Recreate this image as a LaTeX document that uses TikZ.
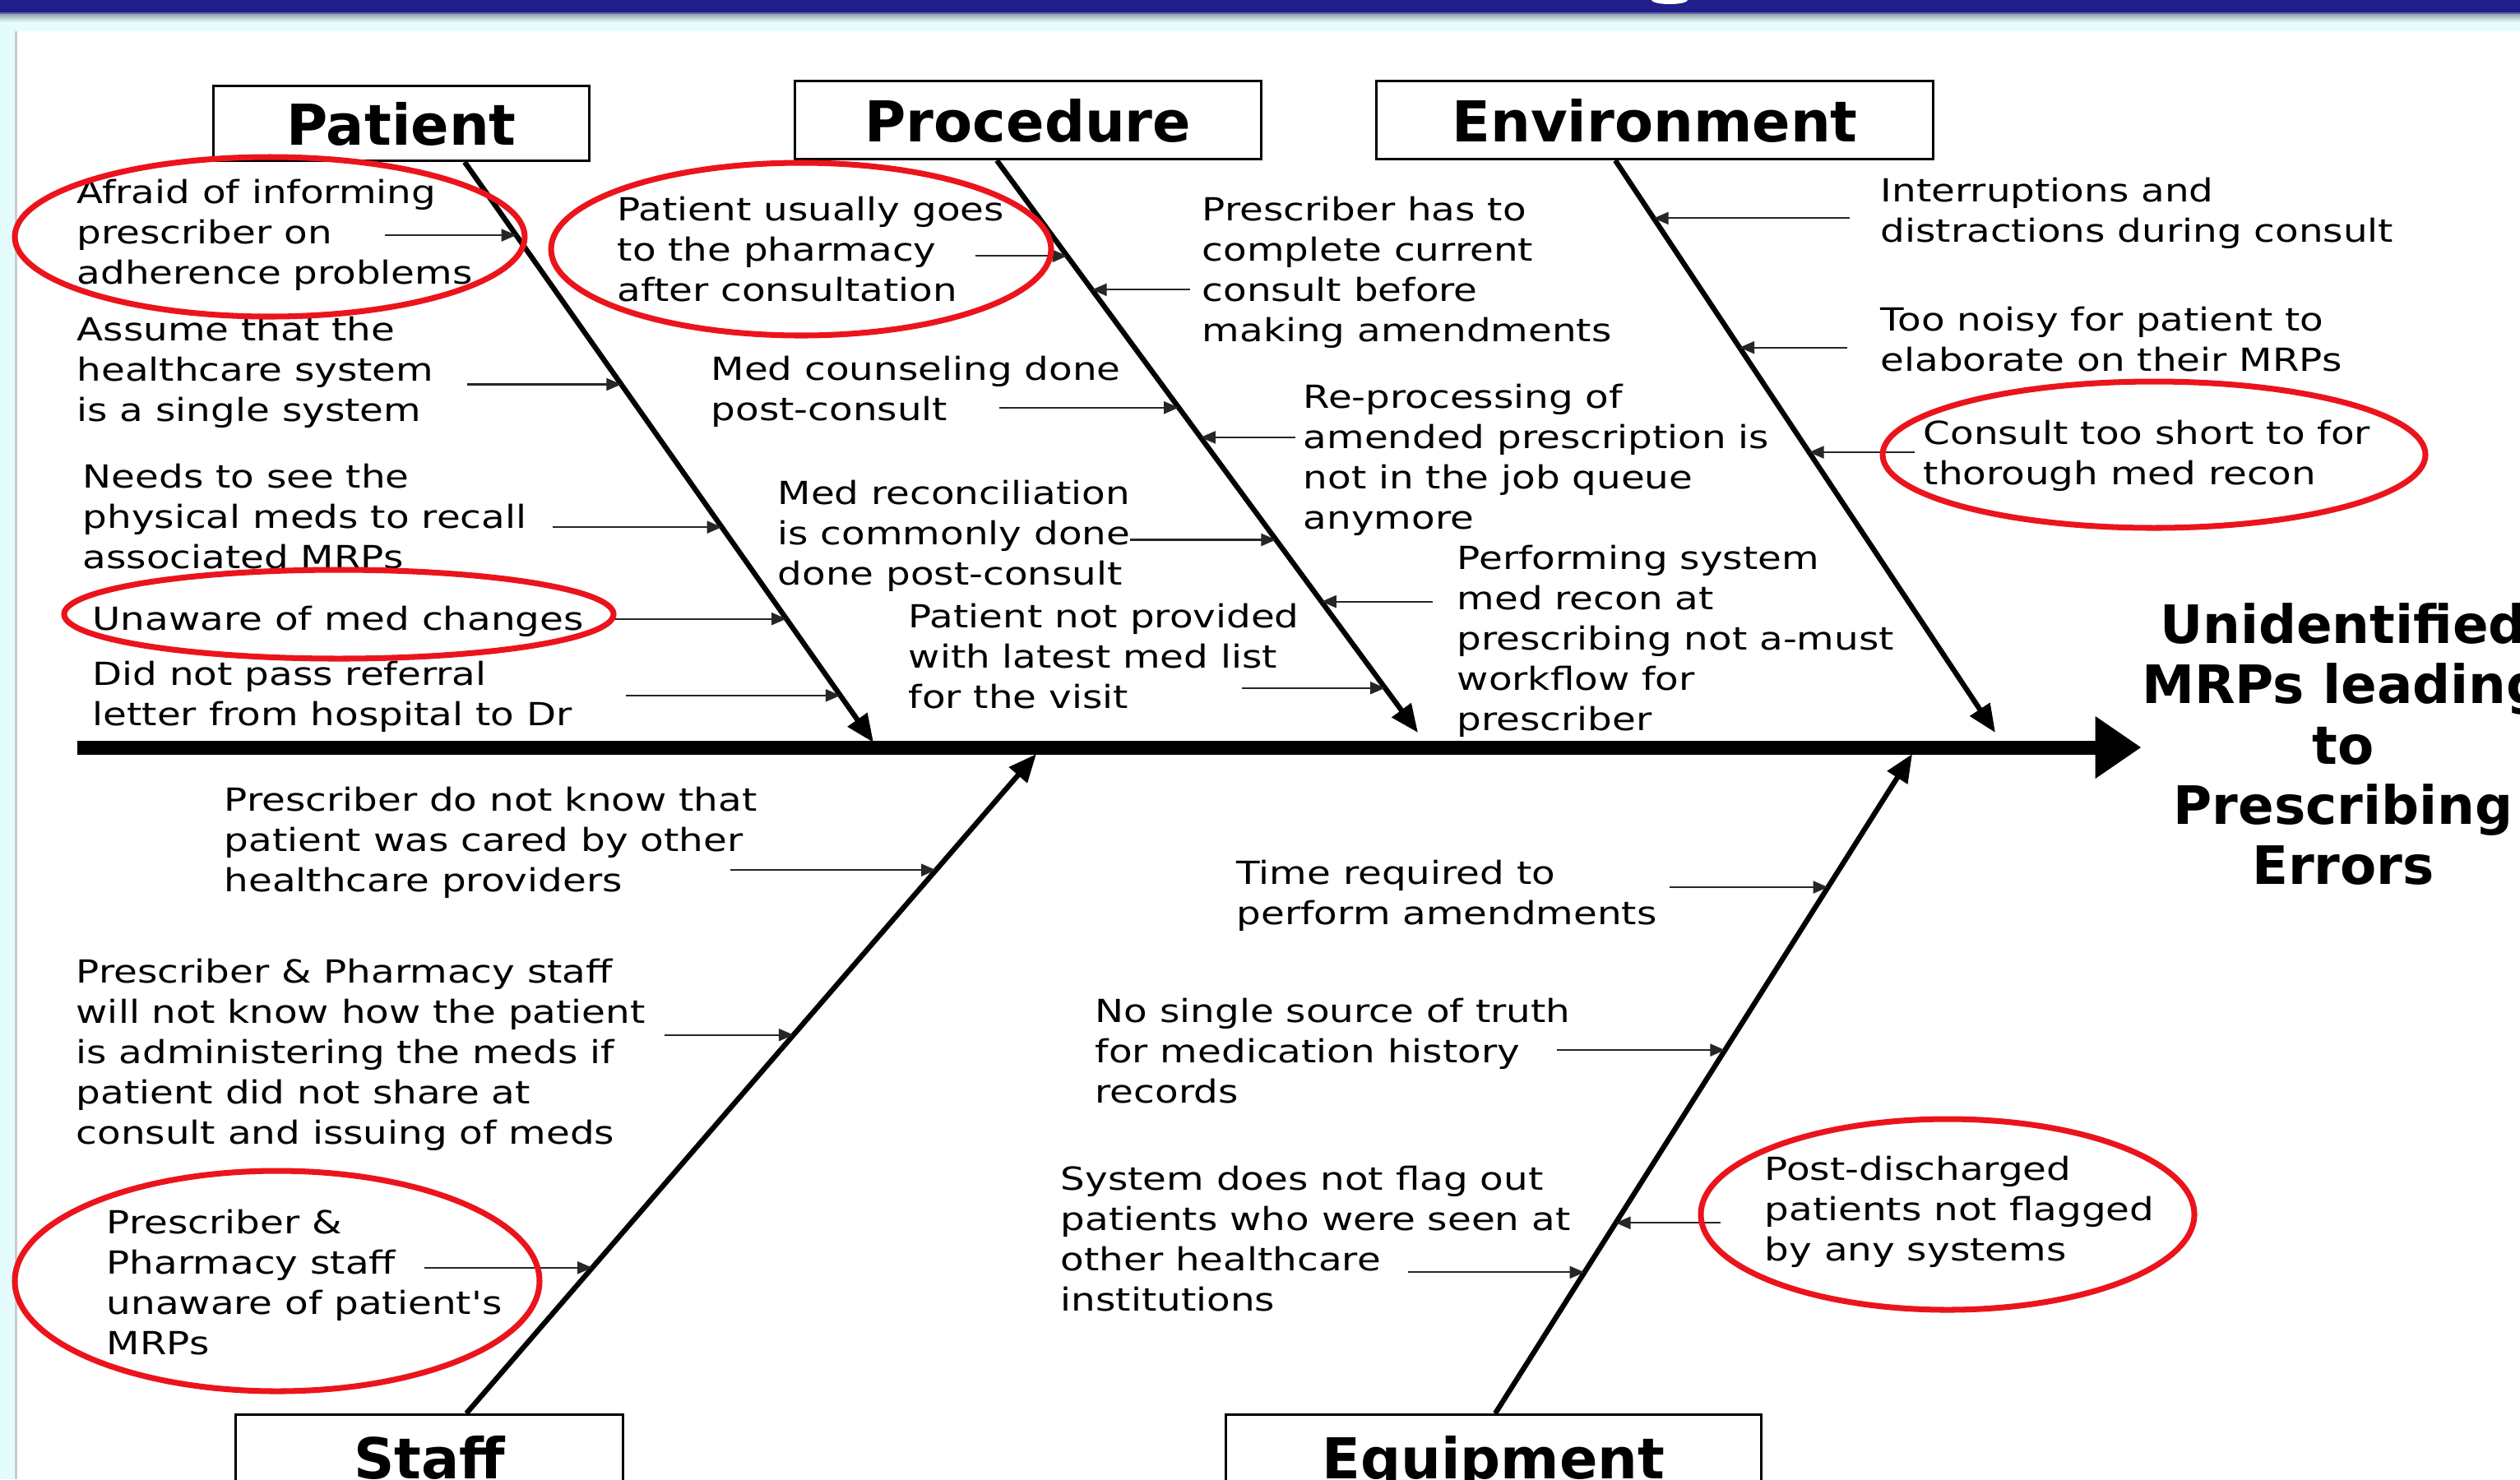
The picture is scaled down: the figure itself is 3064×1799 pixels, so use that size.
\documentclass[tikz,border=0pt]{standalone}
\usepackage{fontspec}
\setmainfont{DejaVu Sans}
\newfontfamily\causefont[FakeStretch=1.21]{DejaVu Sans}
\usetikzlibrary{arrows.meta,calc}

\definecolor{bandblue}{RGB}{32,30,138}
\definecolor{bandedge}{RGB}{96,94,178}
\definecolor{bandgrey}{RGB}{150,168,164}
\definecolor{paleaqua}{RGB}{228,252,252}
\definecolor{ringred}{RGB}{235,20,28}

\tikzset{
  headbox/.style={draw, line width=0.9pt, inner sep=0pt,
    font=\bfseries\fontsize{19.5pt}{23pt}\selectfont,
    text height=0.52cm, text depth=0pt},
  cause/.style={anchor=north west, align=left, inner sep=0pt, yshift=-0.05cm,
    font=\causefont\fontsize{11pt}{0.49cm}\selectfont,
    execute at begin node=\strut},
  effect/.style={anchor=north, align=center, inner sep=0pt, yshift=-0.04cm,
    font=\bfseries\fontsize{18.3pt}{0.733cm}\selectfont,
    execute at begin node=\strut},
  bone/.style={line width=1.8pt, -{Triangle[length=0.34cm,width=0.28cm]}},
  spine/.style={line width=0.17cm, -{Triangle[length=0.56cm,width=0.72cm]}},
  feed/.style={black!85, line width=0.6pt, -{Triangle[length=0.18cm,width=0.15cm]}},
  ring/.style={ringred, line width=2pt},
}

\begin{document}
\begin{tikzpicture}[x=0.01cm, y=-0.01cm]
	\useasboundingbox (0,0) rectangle (3064,1799);
	\clip (0,0) rectangle (3064,1799);

	% slide background
	\fill[white]		(0,0) rectangle (3064,1799);
	\fill[paleaqua]		(0,25) rectangle (3064,38);
	\shade[top color=bandgrey, bottom color=paleaqua]	(0,17) rectangle (3064,27);
	\fill[bandedge]		(0,14) rectangle (3064,17);
	\fill[bandblue]		(0,0) rectangle (3064,15);
	\fill[white]		(2030,0) ellipse [x radius=22, y radius=5];
	\fill[paleaqua]		(0,38) rectangle (18,1799);
	\fill[black!20]		(18,38) rectangle (21,1799);

	% category boxes
	\node[headbox, minimum width=4.57cm, minimum height=0.91cm]	(patient) at (488,150) {Patient};
	\node[headbox, minimum width=5.66cm, minimum height=0.95cm]	(procedure) at (1250,146) {Procedure};
	\node[headbox, minimum width=6.76cm, minimum height=0.95cm]	(environment) at (2012,146) {Environment};
	\node[headbox, anchor=north, minimum width=4.70cm, minimum height=1.04cm]	(staff) at (522,1719) {Staff};
	\node[headbox, anchor=north, minimum width=6.51cm, minimum height=1.04cm]	(equipment) at (1816,1719) {Equipment};

	\node[effect]	(effect) at (2849,729) {Unidentified\\MRPs leading\\to\\Prescribing\\Errors};

	% spine and bones
	\coordinate (tail) at (94,909);
	\draw[spine]	(tail) -- (tail -| effect.west);

	\coordinate (patTop) at ($(patient.south)+(77,0)$);
	\coordinate (proTop) at ($(procedure.south)+(-38,0)$);
	\coordinate (envTop) at ($(environment.south)+(-48,0)$);
	\coordinate (stfBot) at ($(staff.north)+(45,0)$);
	\coordinate (eqpBot) at ($(equipment.north)+(2,0)$);
	\coordinate (patTip) at (1062,903);
	\coordinate (proTip) at (1724,891);
	\coordinate (envTip) at (2426,891);
	\coordinate (stfTip) at (1260,917);
	\coordinate (eqpTip) at (2325,917);

	\draw[bone]	(patTop) -- (patTip);
	\draw[bone]	(proTop) -- (proTip);
	\draw[bone]	(envTop) -- (envTip);
	\draw[bone]	(stfBot) -- (stfTip);
	\draw[bone]	(eqpBot) -- (eqpTip);

	% patient causes
	\node[cause]	(pat1) at (93,212)	{Afraid of informing\\prescriber on\\adherence problems};
	\node[cause]	(pat2) at (93,379)	{Assume that the\\healthcare system\\is a single system};
	\node[cause]	(pat3) at (100,558)	{Needs to see the\\physical meds to recall\\associated MRPs};
	\node[cause]	(pat4) at (112,726)	{Unaware of med changes};
	\node[cause]	(pat5) at (112,798)	{Did not pass referral\\letter from hospital to Dr};

	% procedure causes
	\node[cause]	(pro1) at (750,233)		{Patient usually goes\\to the pharmacy\\after consultation};
	\node[cause]	(pro2) at (864,427)		{Med counseling done\\post-consult};
	\node[cause]	(pro3) at (945,578)		{Med reconciliation\\is commonly done\\done post-consult};
	\node[cause]	(pro4) at (1104,728)	{Patient not provided\\with latest med list\\for the visit};
	\node[cause]	(pro5) at (1461,233)	{Prescriber has to\\complete current\\consult before\\making amendments};
	\node[cause]	(pro6) at (1584,461)	{Re-processing of\\amended prescription is\\not in the job queue\\anymore};
	\node[cause]	(pro7) at (1771,657)	{Performing system\\med recon at\\prescribing not a-must\\workflow for\\prescriber};

	% environment causes
	\node[cause]	(env1) at (2286,210)	{Interruptions and\\distractions during consult};
	\node[cause]	(env2) at (2286,367)	{Too noisy for patient to\\elaborate on their MRPs};
	\node[cause]	(env3) at (2338,505)	{Consult too short to for\\thorough med recon};

	% staff causes
	\node[cause]	(stf1) at (272,951)		{Prescriber do not know that\\patient was cared by other\\healthcare providers};
	\node[cause]	(stf2) at (92,1160)		{Prescriber \& Pharmacy staff\\will not know how the patient\\is administering the meds if\\patient did not share at\\consult and issuing of meds};
	\node[cause]	(stf3) at (129,1465)	{Prescriber \&\\Pharmacy staff\\unaware of patient's\\MRPs};

	% equipment causes
	\node[cause]	(eqp1) at (1503,1040)	{Time required to\\perform amendments};
	\node[cause]	(eqp2) at (1331,1208)	{No single source of truth\\for medication history\\records};
	\node[cause]	(eqp3) at (1289,1412)	{System does not flag out\\patients who were seen at\\other healthcare\\institutions};
	\node[cause]	(eqp4) at (2145,1400)	{Post-discharged\\patients not flagged\\by any systems};

	% arrows onto the bones
	\foreach \t/\len [count=\i] in {.126/160, .383/187, .629/206, .787/214, .919/261}{
		\coordinate (pa\i) at ($(patTop)!\t!(patTip)$);
		\draw[feed]	(pa\i) ++(-\len,0) -- (pa\i);
	}
	\foreach \t/\len [count=\i] in {.167/112, .432/218, .663/177, .922/174}{
		\coordinate (pl\i) at ($(proTop)!\t!(proTip)$);
		\draw[feed]	(pl\i) ++(-\len,0) -- (pl\i);
	}
	\foreach \t/\len [count=\i] in {.226/119, .484/115, .771/135}{
		\coordinate (pr\i) at ($(proTop)!\t!(proTip)$);
		\draw[feed]	(pr\i) ++(\len,0) -- (pr\i);
	}
	\foreach \t/\len [count=\i] in {.101/238, .327/131, .510/128}{
		\coordinate (er\i) at ($(envTop)!\t!(envTip)$);
		\draw[feed]	(er\i) ++(\len,0) -- (er\i);
	}
	\foreach \t/\len [count=\i] in {.176/250, .426/157, .779/204}{
		\coordinate (sl\i) at ($(stfTip)!\t!(stfBot)$);
		\draw[feed]	(sl\i) ++(-\len,0) -- (sl\i);
	}
	\foreach \t/\len [count=\i] in {.202/193, .449/204, .786/215}{
		\coordinate (ql\i) at ($(eqpTip)!\t!(eqpBot)$);
		\draw[feed]	(ql\i) ++(-\len,0) -- (ql\i);
	}
	\coordinate (qr1) at ($(eqpTip)!.711!(eqpBot)$);
	\draw[feed]	(qr1) ++(127,0) -- (qr1);

	% red rings
	\draw[ring]	(328,288) ellipse [x radius=310, y radius=97];
	\draw[ring]	(974,303) ellipse [x radius=304, y radius=105];
	\draw[ring]	(412,747) ellipse [x radius=334, y radius=54];
	\draw[ring]	(2619,553) ellipse [x radius=330, y radius=89];
	\draw[ring]	(337,1558) ellipse [x radius=319, y radius=134];
	\draw[ring]	(2368,1477) ellipse [x radius=300, y radius=116];
\end{tikzpicture}
\end{document}
